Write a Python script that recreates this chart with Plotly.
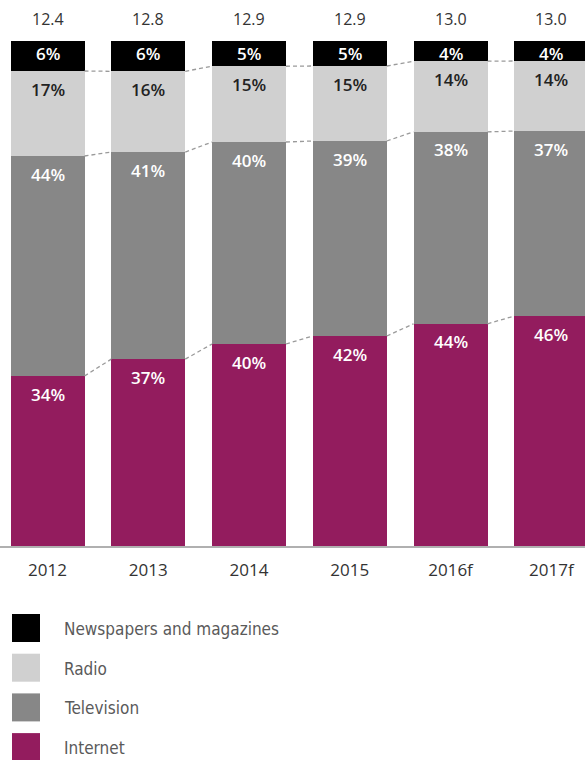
import plotly.graph_objects as go

# Ad spend mix by medium, share of total (%), with total spend per year
years = ["2012", "2013", "2014", "2015", "2016f", "2017f"]
totals = ["12.4", "12.8", "12.9", "12.9", "13.0", "13.0"]
internet = [34, 37, 40, 42, 44, 46]
television = [44, 41, 40, 39, 38, 37]
radio = [17, 16, 15, 15, 14, 14]
newspapers = [6, 6, 5, 5, 4, 4]

# stacking order bottom -> top
series = [
    ("Internet", internet, "#931c5e", "#ffffff"),
    ("Television", television, "#878787", "#ffffff"),
    ("Radio", radio, "#d0d0d0", "#222222"),
    ("Newspapers and magazines", newspapers, "#000000", "#ffffff"),
]

W, H = 585, 760
TOP, BOTTOM = 41, 546           # plot area in pixels
PLOT_H = BOTTOM - TOP
STEP = 100.76                   # pixels per category
X0 = -47.5 / STEP
X1 = X0 + W / STEP
BAR_W = 74 / STEP

xs = list(range(len(years)))
fig = go.Figure()

for name, vals, color, _ in series:
    fig.add_trace(go.Bar(
        x=xs, y=vals, name=name, width=BAR_W,
        marker=dict(color=color, line=dict(width=0)),
        hoverinfo="skip", showlegend=False,
    ))

# cumulative (normalised) boundaries per year
sums = [sum(s[1][i] for s in series) for i in xs]
bounds = []  # top edge of each segment
acc = [0.0] * len(xs)
for name, vals, color, tcol in series:
    acc = [acc[i] + vals[i] / sums[i] * 100 for i in xs]
    bounds.append([min(round(a, 6), 100.0) for a in acc])

# dashed connectors between the segment tops of neighbouring bars
for k in range(len(series) - 1):
    for i in xs[:-1]:
        fig.add_trace(go.Scatter(
            x=[i + BAR_W / 2, i + 1 - BAR_W / 2],
            y=[bounds[k][i], bounds[k][i + 1]],
            mode="lines",
            line=dict(color="#9a9a9a", width=1.3, dash="4px,3px"),
            hoverinfo="skip", showlegend=False,
        ))

annotations = []
# percentage labels near the top of each segment
for k, (name, vals, color, tcol) in enumerate(series):
    for i in xs:
        annotations.append(dict(
            x=i, y=bounds[k][i], xref="x", yref="y",
            text=f"{vals[i]}%", showarrow=False,
            yanchor="middle", yshift=-18 if k < 3 else -12,
            font=dict(family="Open Sans", size=17, color=tcol, weight=600),
        ))

# totals above bars
for i in xs:
    annotations.append(dict(
        x=i, y=100, xref="x", yref="y", text=totals[i], showarrow=False,
        yanchor="middle", yshift=22,
        font=dict(family="Open Sans", size=16, color="#333333"),
    ))

# custom legend below the chart
LEGEND_FONT = "DejaVu Sans Condensed, DejaVu Sans"
shapes = []
legend_order = list(reversed(series))
for r, (name, vals, color, _) in enumerate(legend_order):
    top_px = 614 + r * 39.7
    y_top = (BOTTOM - top_px) / PLOT_H
    y_bot = (BOTTOM - (top_px + 28)) / PLOT_H
    shapes.append(dict(
        type="rect", xref="paper", yref="paper",
        x0=12 / W, x1=40 / W, y0=y_bot, y1=y_top,
        fillcolor=color, line=dict(width=0), layer="above",
    ))
    annotations.append(dict(
        x=62 / W, y=(BOTTOM - (top_px + 15)) / PLOT_H,
        xref="paper", yref="paper", xanchor="left", yanchor="middle",
        text=name, showarrow=False,
        font=dict(family=LEGEND_FONT, size=17, color="#5a5a5a"),
    ))

fig.update_layout(
    width=W, height=H,
    margin=dict(l=0, r=0, t=TOP, b=H - BOTTOM),
    paper_bgcolor="white", plot_bgcolor="white",
    barmode="stack", barnorm="percent", bargap=0,
    showlegend=False,
    xaxis=dict(
        range=[X0, X1], tickvals=xs, ticktext=years,
        showgrid=False, zeroline=False,
        showline=True, linecolor="#b0b0b0", linewidth=1.5,
        ticks="outside", ticklen=8, tickcolor="rgba(0,0,0,0)",
        tickfont=dict(family="Open Sans", size=17, color="#333333", weight=500),
        fixedrange=True,
    ),
    yaxis=dict(range=[0, 100], visible=False, fixedrange=True),
    annotations=annotations,
    shapes=shapes,
)

fig.write_html("out.html")
